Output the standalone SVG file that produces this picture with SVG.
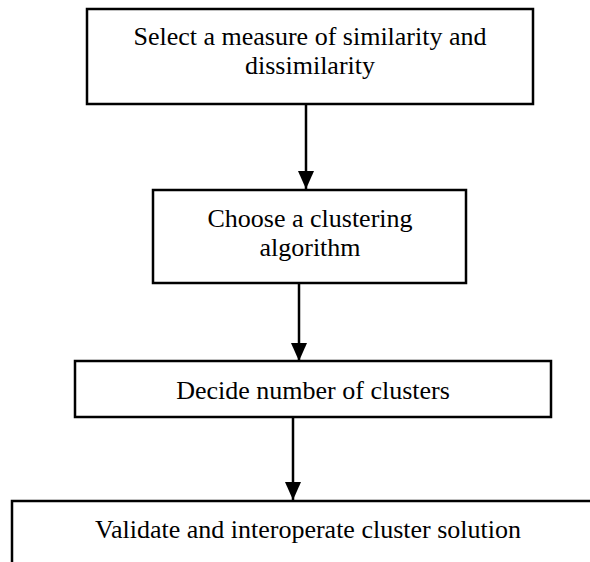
<svg xmlns="http://www.w3.org/2000/svg" width="590" height="562" viewBox="0 0 590 562">
  <style>
    .box { fill: #ffffff; stroke: #000000; stroke-width: 2.5; }
    .label { font-family: "Liberation Serif", "Times New Roman", serif; font-size: 26px; fill: #000000; text-anchor: middle; }
    .link { stroke: #000000; stroke-width: 2.5; fill: none; marker-end: url(#arrow); }
  </style>
  <defs>
    <!-- solid triangular head, tip at the end of the line -->
    <marker id="arrow" markerUnits="userSpaceOnUse" viewBox="0 0 18 16" markerWidth="18" markerHeight="16" refX="18" refY="8" orient="auto">
      <path d="M0,0 L18,8 L0,16 Z" fill="#000000"/>
    </marker>
  </defs>
  <rect width="590" height="562" fill="#ffffff"/>

  <g id="connectors">
    <line class="link" x1="306" y1="104" x2="306" y2="189"/>
    <line class="link" x1="299" y1="283" x2="299" y2="361"/>
    <line class="link" x1="293" y1="417" x2="293" y2="500"/>
  </g>

  <g id="node-measure">
    <rect class="box" x="87" y="9" width="446" height="95"/>
    <text class="label" x="310" y="45">Select a measure of similarity and</text>
    <text class="label" x="310" y="74">dissimilarity</text>
  </g>

  <g id="node-algorithm">
    <rect class="box" x="153" y="190" width="313" height="93"/>
    <text class="label" x="310" y="227">Choose a clustering</text>
    <text class="label" x="310" y="256">algorithm</text>
  </g>

  <g id="node-clusters">
    <rect class="box" x="75" y="361" width="476" height="56"/>
    <text class="label" x="313" y="399">Decide number of clusters</text>
  </g>

  <g id="node-validate">
    <path class="box" d="M12,570 L12,501 L600,501" fill="none"/>
    <text class="label" x="308" y="538">Validate and interoperate cluster solution</text>
  </g>
</svg>
